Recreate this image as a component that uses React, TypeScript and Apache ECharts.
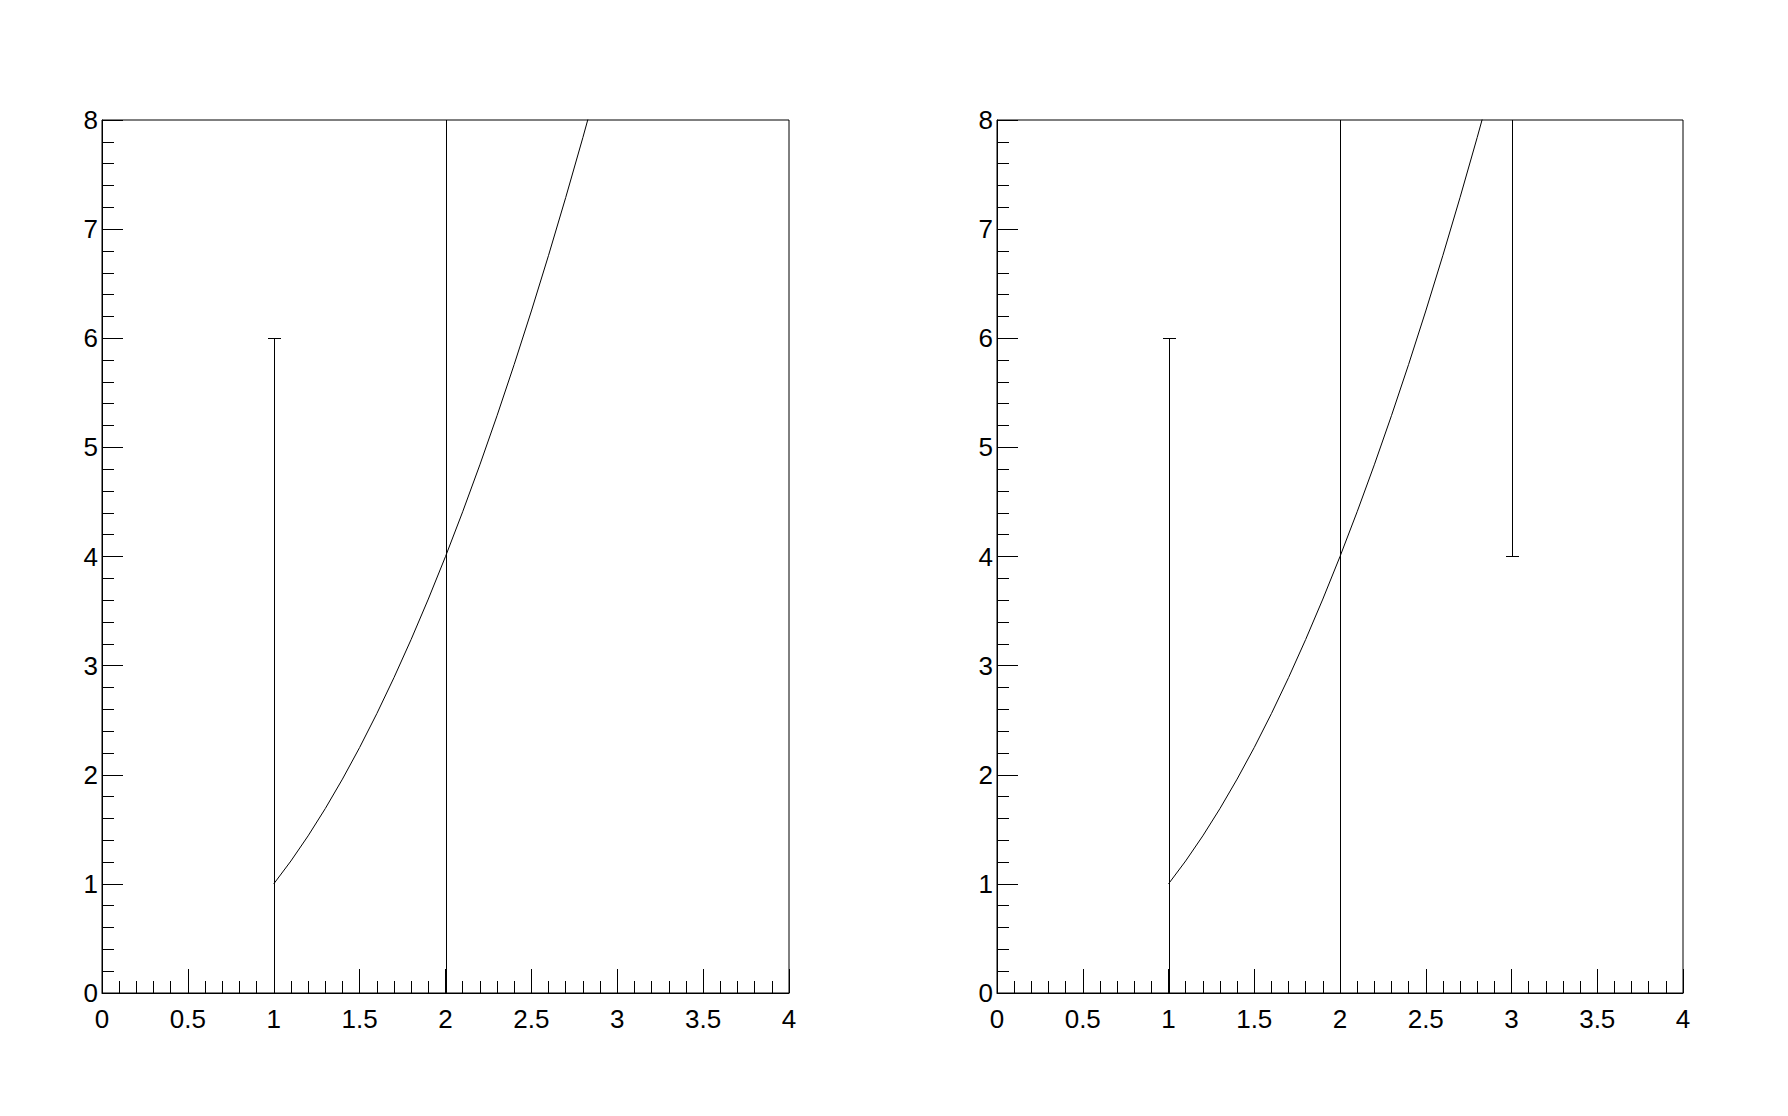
import React, { useEffect, useRef } from "react";
import * as echarts from "echarts";

// Curve values (x, y)
const curveX = [1.0, 1.1, 1.2, 1.3, 1.4, 1.5, 1.6, 1.7, 1.8, 1.9, 2.0, 2.1, 2.2, 2.3, 2.4, 2.5, 2.6, 2.7, 2.8, 2.9];
const curveY = [1.0, 1.21, 1.44, 1.69, 1.96, 2.25, 2.56, 2.89, 3.24, 3.61, 4.0, 4.41, 4.84, 5.29, 5.76, 6.25, 6.76, 7.29, 7.84, 8.41];

// Error bars: [x, low, high]
const barsLeft = [
  [1, 0, 6],
  [2, -2, 12],
];
const barsRight = [
  [1, 0, 6],
  [2, -2, 12],
  [3, 4, 12],
];

const xMin = 0, xMax = 4, xStep = 0.5;
const yMin = 0, yMax = 8, yStep = 1;

const FONT = "Liberation Sans";

function renderBar(params: any, api: any) {
  const x = api.value(0);
  const lo = api.value(1);
  const hi = api.value(2);
  const pLo = api.coord([x, lo]);
  const pHi = api.coord([x, hi]);
  const cs = params.coordSys;
  const top = cs.y;
  const bottom = cs.y + cs.height;
  const px = Math.round(pLo[0]) + 0.5;
  const y1 = Math.min(Math.max(pHi[1], top), bottom);
  const y2 = Math.min(Math.max(pLo[1], top), bottom);
  const style = { stroke: "#000", lineWidth: 1, fill: null };
  const children: any[] = [
    { type: "line", shape: { x1: px, y1: y1, x2: px, y2: y2 }, style },
  ];
  const cap = 6.5;
  if (pHi[1] >= top - 0.1 && pHi[1] <= bottom - 1) {
    const yy = Math.round(pHi[1]) + 0.5;
    children.push({ type: "line", shape: { x1: px - cap, y1: yy, x2: px + cap, y2: yy }, style });
  }
  if (pLo[1] >= top + 1 && pLo[1] <= bottom - 1) {
    const yy = Math.round(pLo[1]) - 0.5;
    children.push({ type: "line", shape: { x1: px - cap, y1: yy, x2: px + cap, y2: yy }, style });
  }
  return { type: "group", children };
}

function makeAxes(idx: number) {
  const xAxis = {
    type: "value",
    gridIndex: idx,
    min: xMin,
    max: xMax,
    interval: xStep,
    axisLine: { show: true, lineStyle: { color: "#000", width: 1 } },
    axisTick: { show: true, inside: true, length: 24, lineStyle: { color: "#000", width: 1 } },
    minorTick: { show: true, splitNumber: 5, length: 12, lineStyle: { color: "#000", width: 1 } },
    splitLine: { show: false },
    minorSplitLine: { show: false },
    axisLabel: {
      show: true,
      color: "#000",
      fontFamily: FONT,
      fontSize: 26,
      margin: 13,
      showMinLabel: true,
      showMaxLabel: true,
      formatter: (v: number) => String(v),
    },
  };
  const yAxis = {
    type: "value",
    gridIndex: idx,
    min: yMin,
    max: yMax,
    interval: yStep,
    axisLine: { show: true, lineStyle: { color: "#000", width: 1 } },
    axisTick: { show: true, inside: true, length: 21, lineStyle: { color: "#000", width: 1 } },
    minorTick: { show: true, splitNumber: 5, length: 12, lineStyle: { color: "#000", width: 1 } },
    splitLine: { show: false },
    minorSplitLine: { show: false },
    axisLabel: {
      show: true,
      color: "#000",
      fontFamily: FONT,
      fontSize: 26,
      margin: 4,
      showMinLabel: true,
      showMaxLabel: true,
      padding: [4, 0, 0, 0],
    },
  };
  return { xAxis, yAxis };
}

export default function App() {
  const ref = useRef<HTMLDivElement>(null);
  useEffect(() => {
    document.body.style.margin = "0";
    if (!ref.current) return;
    const chart = echarts.init(ref.current, undefined, { renderer: "svg" });
    const a0 = makeAxes(0);
    const a1 = makeAxes(1);
    const curve = curveX.map((x, i) => [x, curveY[i]]);
    const option: any = {
      animation: false,
      backgroundColor: "#fff",
      grid: [
        { left: 102, top: 120, width: 687, height: 873, show: true, borderColor: "#000", borderWidth: 1, backgroundColor: "transparent" },
        { left: 997, top: 120, width: 686, height: 873, show: true, borderColor: "#000", borderWidth: 1, backgroundColor: "transparent" },
      ],
      xAxis: [a0.xAxis, a1.xAxis],
      yAxis: [a0.yAxis, a1.yAxis],
      series: [
        {
          type: "line",
          xAxisIndex: 0,
          yAxisIndex: 0,
          data: curve,
          showSymbol: false,
          symbol: "none",
          clip: true,
          lineStyle: { color: "#000", width: 1 },
        },
        {
          type: "custom",
          xAxisIndex: 0,
          yAxisIndex: 0,
          data: barsLeft,
          renderItem: renderBar,
          clip: true,
        },
        {
          type: "line",
          xAxisIndex: 1,
          yAxisIndex: 1,
          data: curve,
          showSymbol: false,
          symbol: "none",
          clip: true,
          lineStyle: { color: "#000", width: 1 },
        },
        {
          type: "custom",
          xAxisIndex: 1,
          yAxisIndex: 1,
          data: barsRight,
          renderItem: renderBar,
          clip: true,
        },
      ],
    };
    chart.setOption(option);
    return () => chart.dispose();
  }, []);
  return <div ref={ref} style={{ width: 1788, height: 1116 }} />;
}
